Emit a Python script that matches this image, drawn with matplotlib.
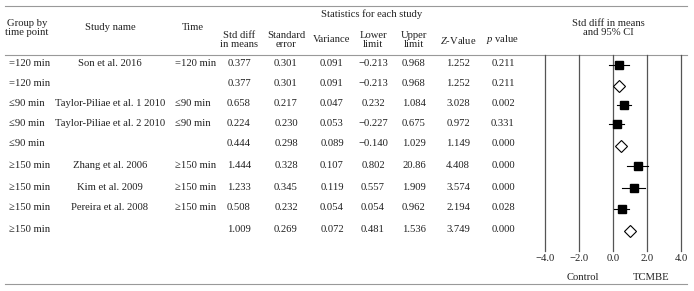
import matplotlib.pyplot as plt

plt.rcParams['font.family'] = ['Liberation Serif', 'DejaVu Serif']
plt.rcParams['mathtext.fontset'] = 'custom'
plt.rcParams['mathtext.it'] = 'Liberation Serif:italic'
plt.rcParams['mathtext.rm'] = 'Liberation Serif'

groups = ['=120 min', '=120 min', '≤90 min', '≤90 min', '≤90 min',
          '≥150 min', '≥150 min', '≥150 min', '≥150 min']
studies = ['Son et al. 2016', '', 'Taylor-Piliae et al. 1 2010', 'Taylor-Piliae et al. 2 2010', '',
           'Zhang et al. 2006', 'Kim et al. 2009', 'Pereira et al. 2008', '']
times = ['=120 min', '', '≤90 min', '≤90 min', '', '≥150 min', '≥150 min', '≥150 min', '']
smd = [0.377, 0.377, 0.658, 0.224, 0.444, 1.444, 1.233, 0.508, 1.009]
se = [0.301, 0.301, 0.217, 0.230, 0.298, 0.328, 0.345, 0.232, 0.269]
variance = [0.091, 0.091, 0.047, 0.053, 0.089, 0.107, 0.119, 0.054, 0.072]
lower = [-0.213, -0.213, 0.232, -0.227, -0.140, 0.802, 0.557, 0.054, 0.481]
upper = [0.968, 0.968, 1.084, 0.675, 1.029, 2.086, 1.909, 0.962, 1.536]
zval = [1.252, 1.252, 3.028, 0.972, 1.149, 4.408, 3.574, 2.194, 3.749]
pval = [0.211, 0.211, 0.002, 0.331, 0.000, 0.000, 0.000, 0.028, 0.000]
summary = [False, True, False, False, True, False, False, False, True]
xticks = [-4.0, -2.0, 0.0, 2.0, 4.0]

# row positions (pixels from top)
row_y = [64, 84, 104, 123, 144, 165, 187, 208, 229]

W, H = 694, 291
fig = plt.figure(figsize=(W / 100, H / 100), dpi=100)

# overlay axes in pixel coords for the table
bg = fig.add_axes([0, 0, 1, 1])
bg.set_xlim(0, W)
bg.set_ylim(H, 0)
bg.axis('off')

fs = 7.7
tc = '#222222'

def fmt(v):
    return f'{v:.3f}'.replace('-', '\u2212')

upper_txt = [fmt(v) for v in upper]
upper_txt[5] = '20.86'  # as printed in the table

# rules
for y in [6, 55, 284]:
    bg.plot([5, 687], [y, y], color='#999999', lw=0.8)

# headers
bg.text(372, 14, 'Statistics for each study', ha='center', va='center', fontsize=fs, color=tc)
bg.text(27, 28, 'Group by\ntime point', ha='center', va='center', fontsize=fs, color=tc, linespacing=1.0)
bg.text(110, 28, 'Study name', ha='center', va='center', fontsize=fs, color=tc)
bg.text(193, 28, 'Time', ha='center', va='center', fontsize=fs, color=tc)
heads = [(239, 'Std diff\nin means'), (286, 'Standard\nerror'), (332, 'Variance'),
         (373, 'Lower\nlimit'), (414, 'Upper\nlimit'), (458, '$Z$-Value'), (503, '$p$ value')]
for x, s in heads:
    bg.text(x, 40, s, ha='center', va='center', fontsize=fs, color=tc, linespacing=1.0)
bg.text(608, 28, 'Std diff in means\nand 95% CI', ha='center', va='center', fontsize=fs,
        color=tc, linespacing=1.0)

# table body
for i, y in enumerate(row_y):
    bg.text(9, y, groups[i], ha='left', va='center', fontsize=fs, color=tc)
    bg.text(110, y, studies[i], ha='center', va='center', fontsize=fs, color=tc)
    bg.text(175, y, times[i], ha='left', va='center', fontsize=fs, color=tc)
    cols = [fmt(smd[i]), fmt(se[i]), fmt(variance[i]), fmt(lower[i]), upper_txt[i],
            fmt(zval[i]), fmt(pval[i])]
    for (x, _), s in zip(heads, cols):
        bg.text(x, y, s, ha='center', va='center', fontsize=fs, color=tc)

bg.text(583, 277, 'Control', ha='center', va='center', fontsize=fs, color=tc)
bg.text(651, 277, 'TCMBE', ha='center', va='center', fontsize=fs, color=tc)

# forest plot axes
x0, x1, y0, y1 = 545, 681, 55, 251
ax = fig.add_axes([x0 / W, 1 - y1 / H, (x1 - x0) / W, (y1 - y0) / H])
ax.patch.set_alpha(0)
ax.set_xlim(-4, 4)
ax.set_ylim(y1, y0)
for s in ax.spines.values():
    s.set_visible(False)
for t in xticks:
    ax.axvline(t, color='#555555', lw=0.9, clip_on=False)
ax.set_xticks(xticks)
ax.set_xticklabels([f'{t:.1f}'.replace('-', '\u2212') for t in xticks], fontsize=fs, color=tc)
ax.tick_params(axis='x', length=0, pad=2)
ax.set_yticks([])

for i, y in enumerate(row_y):
    if summary[i]:
        ax.plot(smd[i], y + 2, marker='D', ms=6, mfc='white', mec='black', mew=0.8)
    else:
        ax.plot([lower[i], upper[i]], [y + 1, y + 1], color='black', lw=0.8)
        ax.plot(smd[i], y + 1, marker='s', ms=6, mfc='black', mec='black')

fig.savefig('out.png', dpi=100)
